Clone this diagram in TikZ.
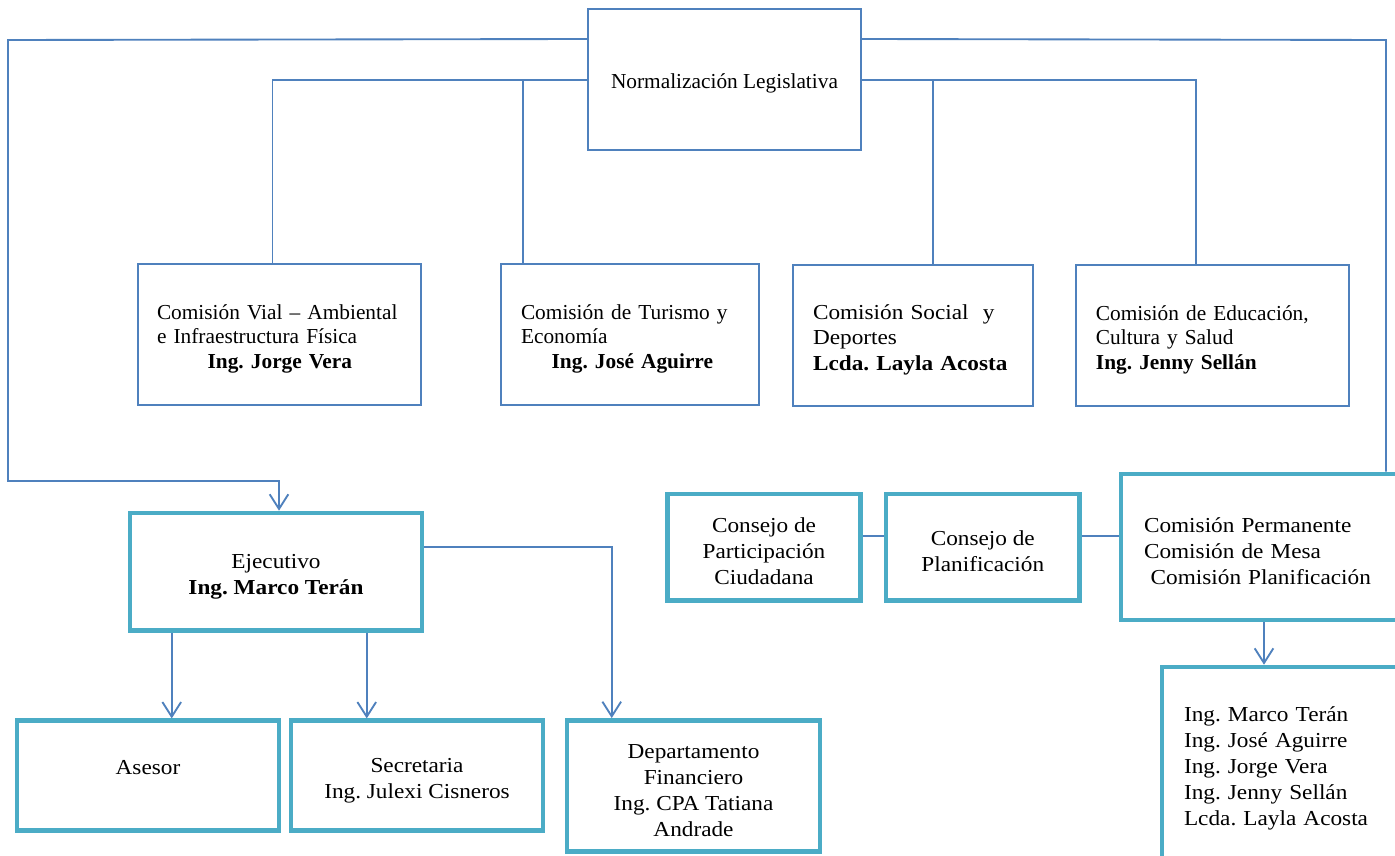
\documentclass[tikz,border=0pt]{standalone}
\usepackage{fontspec}
\setmainfont{Liberation Serif}
\newfontfamily\pal[FakeStretch=1.09]{Liberation Serif}
\usetikzlibrary{calc,arrows.meta}
\definecolor{cblue}{HTML}{4F81BD}
\definecolor{cteal}{HTML}{4BACC6}
\newcommand\topstrut{\rule{0pt}{17.5pt}}
\begin{document}
\frenchspacing
\begin{tikzpicture}[x=0.75pt,y=-0.75pt,
  thinbox/.style={draw=cblue, line width=1.5pt, rectangle, inner sep=0pt,
    font=\frenchspacing\fontsize{16}{18.5}\selectfont},
  thickbox/.style={draw=cteal, line width=3.4pt, rectangle, inner sep=0pt,
    font=\frenchspacing\pal\fontsize{16}{19.5}\selectfont},
  conn/.style={draw=cblue, line width=1.4pt},
  arr/.style={conn, -{Straight Barb[length=11pt,width=14pt]}}
]
\useasboundingbox (0,0) rectangle (1395,856);
\clip (0,0) rectangle (1395,856);
\fill[white] (0,0) rectangle (1395,856);

% top box
\node[thinbox, minimum width=204.75pt, minimum height=105.75pt, align=center] (norm) at (724.5,79.5) {\topstrut Normalización Legislativa};

% commissions
\node[thinbox, minimum width=212.25pt, minimum height=105.75pt, inner xsep=14.25pt, text width=183.75pt, align=left] (vial) at (279.5,334.5)
  {\topstrut Comisión Vial – Ambiental\\ e Infraestructura Física\\ \hspace*{38pt}\textbf{Ing. Jorge Vera}};
\node[thinbox, minimum width=193.5pt, minimum height=105.75pt, inner xsep=15pt, text width=163.5pt, align=left] (tur) at (630,334.5)
  {\topstrut Comisión de Turismo y\\ Economía\\ \hspace*{23pt}\textbf{Ing. José Aguirre}};
\node[thinbox, minimum width=180pt, minimum height=105.75pt, inner xsep=15pt, text width=150pt, align=left, font=\frenchspacing\pal\fontsize{16}{19}\selectfont] (soc) at (913,335.5)
  {\topstrut Comisión Social\ \ y\\ Deportes\\ \textbf{Lcda. Layla Acosta}};
\node[thinbox, minimum width=204.4pt, minimum height=105.75pt, inner xsep=15pt, text width=174.4pt, align=left] (edu) at (1212.25,335.5)
  {\topstrut Comisión de Educación,\\ Cultura y Salud\\ \textbf{Ing. Jenny Sellán}};

% executive branch
\node[thickbox, minimum width=219pt, minimum height=88.3pt, align=center] (ejec) at (276,571.8)
  {\topstrut Ejecutivo\\ \textbf{Ing. Marco Terán}};
\node[thickbox, minimum width=196.5pt, minimum height=82.5pt, align=center] (asesor) at (148,775.7)
  {\topstrut Asesor\\ \phantom{I}};
\node[thickbox, minimum width=189pt, minimum height=82.5pt, align=center] (secr) at (417,775.7)
  {\topstrut Secretaria\\ Ing. Julexi Cisneros};
\node[thickbox, minimum width=189.75pt, minimum height=98.5pt, align=center] (dept) at (693.5,786)
  {\topstrut Departamento\\ Financiero\\ Ing. CPA Tatiana\\ Andrade};

% councils
\node[thickbox, minimum width=144.4pt, minimum height=80pt, align=center] (cpart) at (764,547.3)
  {\topstrut Consejo de\\ Participación\\ Ciudadana};
\node[thickbox, minimum width=145.1pt, minimum height=80pt, align=center] (cplan) at (982.8,547.3)
  {\topstrut Consejo de\\ Planificación};
\node[thickbox, minimum width=224.25pt, minimum height=109.5pt, inner xsep=17.25pt, text width=189.75pt, align=left] (cperm) at (1270.5,547)
  {\topstrut Comisión Permanente\\ Comisión de Mesa\\ \hspace*{5pt}Comisión Planificación};
\node[thickbox, minimum width=193.5pt, minimum height=146.25pt, inner xsep=16.5pt, text width=160.5pt, align=left] (list) at (1291,764.5)
  {\topstrut Ing. Marco Terán\\ Ing. José Aguirre\\ Ing. Jorge Vera\\ Ing. Jenny Sellán\\ Lcda. Layla Acosta};

% connectors
\coordinate (cTL) at (8,40);
\coordinate (cBL) at (8,481);
\coordinate (cTR) at (1386,40);
\coordinate (jt) at (523,81);
\coordinate (js) at (933,81);

\draw[arr] ($(norm.north west)+(0,31)$) -- (cTL) -- (cBL) -| ($(ejec.north)+(3,0)$);
\draw[conn] ($(norm.north east)+(0,31)$) -- (cTR) -- (cTR |- cperm.north);
\draw[conn] ($(norm.north west)+(0,72)$) -| ($(vial.north)+(-7,0)$);
\draw[conn] (jt) -- (jt |- tur.north);
\draw[conn] ($(norm.north east)+(0,72)$) -| ($(edu.north)+(-16,0)$);
\draw[conn] (js) -- (js |- soc.north);

\draw[arr] ($(ejec.north east)+(0,36)$) -| ($(dept.north west)+(47,0)$);
\draw[arr] ($(ejec.south west)+(44,0)$) coordinate (a1) -- (a1 |- asesor.north);
\draw[arr] ($(ejec.south west)+(239,0)$) coordinate (a2) -- (a2 |- secr.north);

\draw[conn] ($(cpart.east)+(0,-11)$) coordinate (c1) -- (c1 -| cplan.west);
\draw[conn] ($(cplan.east)+(0,-11)$) coordinate (c2) -- (c2 -| cperm.west);
\draw[arr] ($(cperm.south)+(-6.5,0)$) coordinate (c3) -- (c3 |- list.north);
\end{tikzpicture}
\end{document}
